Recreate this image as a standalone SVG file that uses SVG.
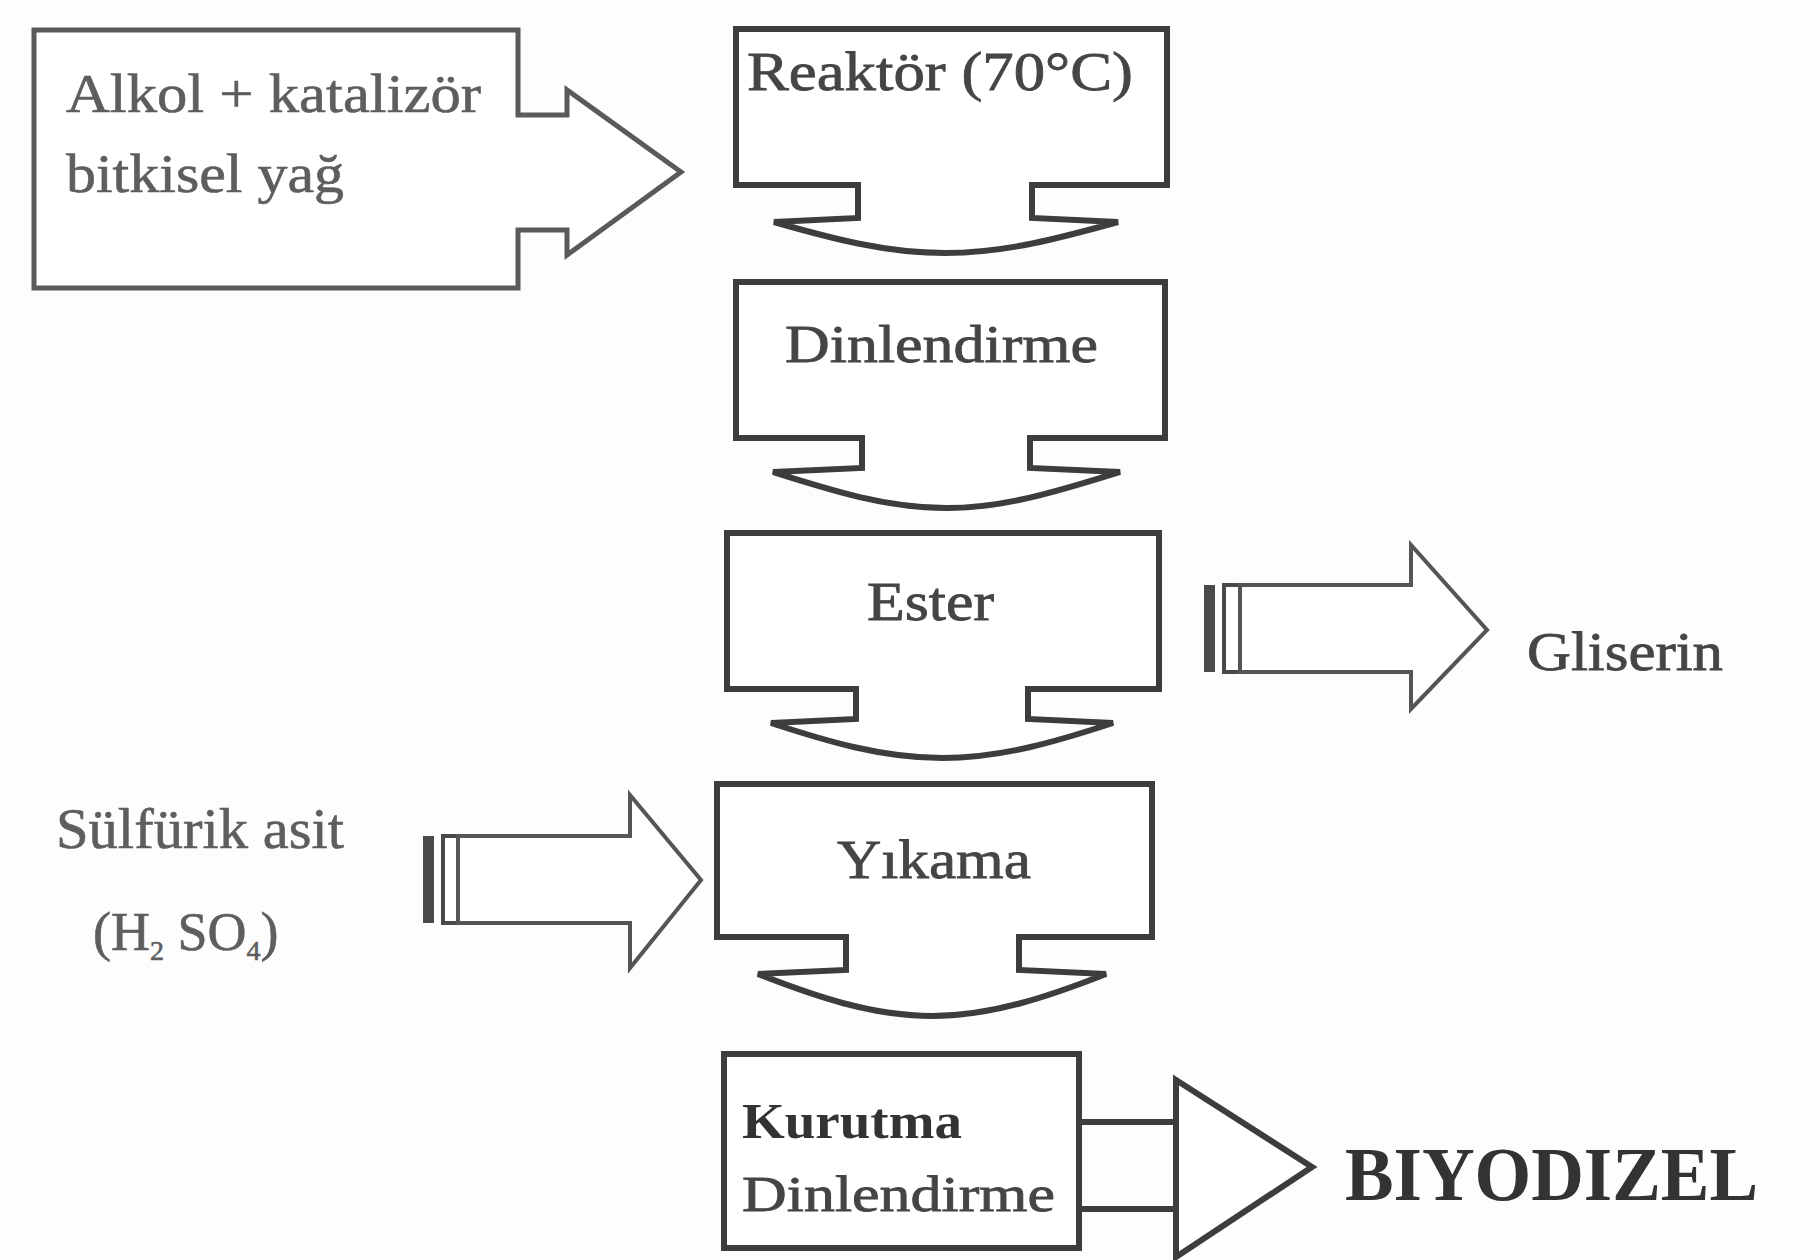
<svg xmlns="http://www.w3.org/2000/svg" width="1817" height="1260" viewBox="0 0 1817 1260">
<style>
.bx{fill:#fff;stroke:#3d3d3d;stroke-width:6;stroke-linejoin:miter}
.lb{fill:#fff;stroke:#5a5a5a;stroke-width:5}
.ar{fill:#fff;stroke:#555;stroke-width:4}
.st{fill:#4a4a4a}
.so{fill:#fff;stroke:#4a4a4a;stroke-width:4}
.t{font-family:"Liberation Serif","DejaVu Serif",serif;fill:#454545;stroke:#454545;stroke-width:0.8}
.tg{font-family:"Liberation Serif","DejaVu Serif",serif;fill:#5e5e5e;stroke:#5e5e5e;stroke-width:0.6}
.tb{font-family:"Liberation Serif","DejaVu Serif",serif;font-weight:bold;fill:#333}
</style>
<rect width="1817" height="1260" fill="#fdfdfd"/>
<g id="input-box">
<path class="lb" d="M34,30 H518 V115 H567 V90 L681,172 L567,255 V230 H518 V288 H34 Z"/>
<text class="tg" x="66" y="112" font-size="54" textLength="415" lengthAdjust="spacingAndGlyphs">Alkol + katalizör</text>
<text class="tg" x="66" y="192" font-size="54" textLength="278" lengthAdjust="spacingAndGlyphs">bitkisel yağ</text>
</g>
<g id="reaktor">
<path class="bx" d="M736,29 H1167 V185 H1032 V218 L1118,222 C1060,238 1005,253 945,253 C885,253 830,238 774,222 L858,218 V185 H736 Z"/>
<text class="t" x="747" y="90" font-size="54" textLength="386" lengthAdjust="spacingAndGlyphs">Reaktör (70°C)</text>
</g>
<g id="dinlendirme">
<path class="bx" d="M736,282 H1165 V438 H1030 V468 L1120,472 C1062,490 1006,508 946,508 C886,508 830,490 773,472 L862,468 V438 H736 Z"/>
<text class="t" x="785" y="362" font-size="52" textLength="313" lengthAdjust="spacingAndGlyphs">Dinlendirme</text>
</g>
<g id="ester">
<path class="bx" d="M727,533 H1159 V689 H1028 V719 L1113,723 C1058,741 1002,758 942,758 C882,758 826,741 771,723 L856,719 V689 H727 Z"/>
<text class="t" x="867" y="620" font-size="54" textLength="127" lengthAdjust="spacingAndGlyphs">Ester</text>
</g>
<g id="yikama">
<path class="bx" d="M717,784 H1152 V937 H1019 V970 L1106,974 C1050,996 992,1016 932,1016 C872,1016 814,996 758,974 L846,970 V937 H717 Z"/>
<text class="t" x="837" y="878" font-size="54" textLength="194" lengthAdjust="spacingAndGlyphs">Yıkama</text>
</g>
<g id="kurutma">
<rect class="bx" x="724" y="1054" width="355" height="194"/>
<text class="tb" x="742" y="1138" font-size="50" textLength="220" lengthAdjust="spacingAndGlyphs">Kurutma</text>
<text class="t" x="742" y="1211" font-size="50" textLength="313" lengthAdjust="spacingAndGlyphs">Dinlendirme</text>
</g>
<g id="gliserin">
<text class="t" x="1527" y="670" font-size="54" textLength="196" lengthAdjust="spacingAndGlyphs">Gliserin</text>
</g>
<g id="sulfurik">
<text class="tg" x="56" y="848" font-size="56" textLength="288" lengthAdjust="spacingAndGlyphs">Sülfürik asit</text>
<text class="tg" x="93" y="950" font-size="54">(H<tspan font-size="28" dy="10">2</tspan><tspan dy="-10"> SO</tspan><tspan font-size="28" dy="10">4</tspan><tspan dy="-10">)</tspan></text>
</g>
<g id="biyodizel">
<text class="tb" x="1345" y="1200" font-size="76" textLength="413" lengthAdjust="spacingAndGlyphs">BIYODIZEL</text>
</g>
<g id="connectors">
<g id="arrow-gliserin">
<rect class="st" x="1204" y="585" width="11" height="87"/>
<rect class="so" x="1224" y="585" width="16" height="87"/>
<path class="ar" d="M1240,585 H1411 V545 L1487,630 L1411,709 V672 H1240 Z"/>
</g>
<g id="arrow-sulfurik">
<rect class="st" x="423" y="836" width="11" height="87"/>
<rect class="so" x="443" y="836" width="15" height="87"/>
<path class="ar" d="M458,836 H630 V795 L701,880 L630,968 V923 H458 Z"/>
</g>
<g id="arrow-biyodizel">
<path fill="none" stroke="#3d3d3d" stroke-width="6" d="M1079,1122 H1176 M1079,1209 H1176"/>
<path class="bx" d="M1176,1080 L1312,1167 L1176,1257 Z"/>
</g>
</g>
</svg>
